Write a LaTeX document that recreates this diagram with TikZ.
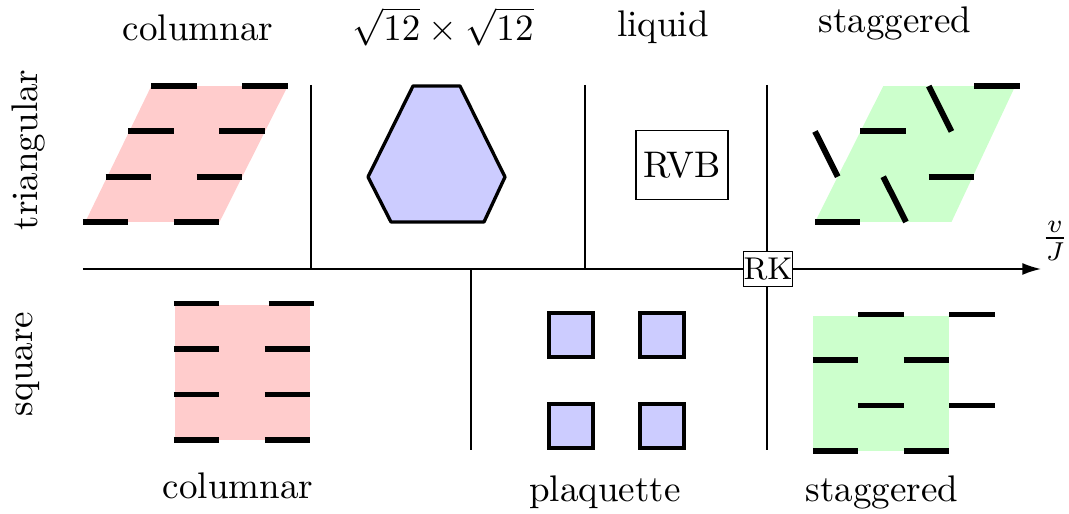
\documentclass[tikz,border=0pt]{standalone}
\usetikzlibrary{arrows.meta}
\begin{document}
\begin{tikzpicture}[x=0.27pt,y=-0.27pt,
  axis/.style={line width=0.45pt},
  dimer/.style={line width=1.6pt},
  lbl/.style={anchor=base, inner sep=0pt},
  plaq/.style={draw=black, fill=blue!20, line width=1.2pt},
  hexa/.style={draw=black, fill=blue!20, line width=0.9pt, line join=round},
  boxlbl/.style={draw=black, line width=0.45pt, fill=white, inner sep=0pt}]
\useasboundingbox (0,0) rectangle (1069,514);

% ---------- triangular columnar ----------
\begin{scope}[shift={(83,222)}, x={(12.285pt,0pt)}, y={(6.1425pt,12.231pt)}]
  \fill[red!20] (0.05,0) -- (3,0) -- (3,3) -- (0,3) -- cycle;
  \foreach \j in {0,1,2,3} {
    \draw[dimer] (0,\j) -- (1,\j);
    \draw[dimer] (2,\j) -- (3,\j);
  }
\end{scope}

% ---------- triangular staggered ----------
\begin{scope}[shift={(815,222)}, x={(12.285pt,0pt)}, y={(6.1425pt,12.231pt)}]
  \fill[green!20] (0,0) -- (3,0) -- (2.9,3) -- (0,3) -- cycle;
  \draw[dimer] (0,0) -- (1,0);
  \draw[dimer] (1,1) -- (2,0);
  \draw[dimer] (2,1) -- (3,1);
  \draw[dimer] (-1,2) -- (0,1);
  \draw[dimer] (0,2) -- (1,2);
  \draw[dimer] (1,3) -- (2,2);
  \draw[dimer] (2,3) -- (3,3);
\end{scope}

% ---------- square columnar ----------
\begin{scope}[shift={(174,440)}, x={(12.285pt,0pt)}, y={(0pt,12.285pt)}]
  \fill[red!20] (0.03,0) rectangle (3,2.96);
  \foreach \j in {0,1,2} {
    \draw[dimer] (0,\j) -- (1,\j);
    \draw[dimer] (2,\j) -- (3,\j);
  }
  \draw[dimer] (0,3) -- (1,3);
  \draw[dimer] (2.08,3) -- (3.08,3);
\end{scope}

% ---------- square staggered ----------
\begin{scope}[shift={(813,451)}, x={(12.285pt,0pt)}, y={(0pt,12.285pt)}]
  \fill[green!20] (0,0) rectangle (3,2.97);
  \draw[dimer] (0,0) -- (1,0);
  \draw[dimer] (2,0) -- (3,0);
  \draw[dimer] (1,1) -- (2,1);
  \draw[dimer] (3,1) -- (4,1);
  \draw[dimer] (0,2) -- (1,2);
  \draw[dimer] (2,2) -- (3,2);
  \draw[dimer] (1,3) -- (2,3);
  \draw[dimer] (3,3) -- (4,3);
\end{scope}

% ---------- hexagon ----------
\draw[hexa] (413,86) -- (460,86) -- (505,177) -- (484,222) -- (391,222) -- (368,177) -- cycle;

% ---------- plaquettes ----------
\foreach \cx in {571,662} {
  \foreach \cy in {335,426} {
    \draw[plaq] (\cx-22,\cy-22) rectangle (\cx+22,\cy+22);
  }
}

% ---------- axes and separators ----------
\coordinate (a0) at (83,269);
\coordinate (a1) at (1041,269);
\coordinate (u1t) at (311,85);
\coordinate (u1b) at (311,269);
\coordinate (u2t) at (585,85);
\coordinate (u2b) at (585,269);
\coordinate (u3t) at (767,85);
\coordinate (u3b) at (767,450);
\coordinate (d1t) at (471,269);
\coordinate (d1b) at (471,450);
\draw[axis] (u1t) -- (u1b);
\draw[axis] (u2t) -- (u2b);
\draw[axis] (u3t) -- (u3b);
\draw[axis] (d1t) -- (d1b);
\draw[axis, -{Latex[length=5pt,width=3.2pt]}] (a0) -- (a1);

\node[boxlbl, minimum width=24.8pt, minimum height=18.6pt] (rvb) at (682,165) {RVB};
\node[boxlbl, minimum width=12.4pt, minimum height=9.5pt, font=\fontsize{8.5}{10}\selectfont] (rk) at (768,269) {RK};
\node[inner sep=0pt] (vj) at (1055,241) {$\frac{v}{J}$};

% ---------- labels ----------
\node[lbl] (t1) at (198,41) {columnar};
\node[lbl] (t2) at (443,41) {$\sqrt{12}\times\sqrt{12}$};
\node[lbl] (t3) at (663,37) {liquid};
\node[lbl] (t4) at (895,33) {staggered};
\node[lbl] (b1) at (238,499) {columnar};
\node[lbl] (b2) at (605,502) {plaquette};
\node[lbl] (b3) at (882,502) {staggered};
\node[rotate=90, inner sep=0pt] (l1) at (28,150) {triangular};
\node[rotate=90, inner sep=0pt] (l2) at (28,364) {square};
\end{tikzpicture}
\end{document}
